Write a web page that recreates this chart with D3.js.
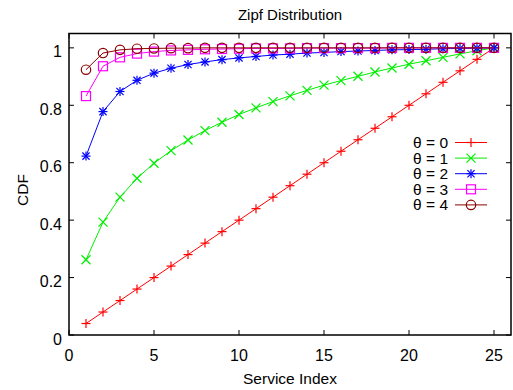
<!DOCTYPE html>
<html><head><meta charset="utf-8">
<script src="https://cdn.jsdelivr.net/npm/d3@7"></script>
<style>body{margin:0;background:#fff;}svg{font-family:"Liberation Sans",Arial,sans-serif;}</style>
</head><body>
<svg id="c" width="513" height="390"></svg>
<script>
const serviceIndex = d3.range(1, 26);
const theta0 = [0.04,0.08,0.12,0.16,0.20,0.24,0.28,0.32,0.36,0.40,0.44,0.48,0.52,0.56,0.60,0.64,0.68,0.72,0.76,0.80,0.84,0.88,0.92,0.96,1.00];
const theta1 = [0.262,0.393,0.480,0.546,0.598,0.642,0.679,0.712,0.741,0.768,0.791,0.813,0.833,0.852,0.870,0.886,0.901,0.916,0.930,0.943,0.955,0.967,0.979,0.990,1.000];
const theta2 = [0.623,0.778,0.848,0.887,0.912,0.929,0.942,0.951,0.959,0.965,0.970,0.975,0.978,0.982,0.984,0.987,0.989,0.991,0.993,0.994,0.995,0.997,0.998,0.999,1.000];
const theta3 = [0.832,0.936,0.967,0.980,0.987,0.991,0.993,0.995,0.996,0.997,0.998,0.998,0.998,0.999,0.999,0.999,0.999,0.999,1.000,1.000,1.000,1.000,1.000,1.000,1.000];
const theta4 = [0.924,0.982,0.993,0.997,0.998,0.999,0.999,1.000,1.000,1.000,1.000,1.000,1.000,1.000,1.000,1.000,1.000,1.000,1.000,1.000,1.000,1.000,1.000,1.000,1.000];
const seriesNames = ["θ = 0","θ = 1","θ = 2","θ = 3","θ = 4"];
const xTicks = [0,5,10,15,20,25];
const yTicks = [0,0.2,0.4,0.6,0.8,1];

const colors = ["#ff0000","#00ee00","#0000ff","#ff00ff","#8b0000"];
const shapes = ["plus","cross","star","square","circle"];
const series = [theta0,theta1,theta2,theta3,theta4].map((v,i)=>({name:seriesNames[i],color:colors[i],shape:shapes[i],values:v}));

const svg = d3.select("#c");
const L=69, R=511, T=33.5, B=335;
const x = d3.scaleLinear().domain([0,26]).range([L,R]);
const y = d3.scaleLinear().domain([0,1.05]).range([B,T]);

const g = svg.append("g");
const tl = 5;
xTicks.forEach(t=>{
  g.append("line").attr("x1",x(t)).attr("x2",x(t)).attr("y1",B).attr("y2",B-tl).attr("stroke","#000");
  g.append("line").attr("x1",x(t)).attr("x2",x(t)).attr("y1",T).attr("y2",T+tl).attr("stroke","#000");
  g.append("text").attr("x",x(t)).attr("y",B+26).attr("text-anchor","middle").attr("font-size",16).text(d3.format("d")(t));
});
yTicks.forEach(t=>{
  g.append("line").attr("x1",L).attr("x2",L+tl).attr("y1",y(t)).attr("y2",y(t)).attr("stroke","#000");
  g.append("line").attr("x1",R).attr("x2",R-tl).attr("y1",y(t)).attr("y2",y(t)).attr("stroke","#000");
  g.append("text").attr("x",L-7).attr("y",y(t)+9.5).attr("text-anchor","end").attr("font-size",16).text(t===0||t===1?String(t):d3.format(".1f")(t));
});

function marker(sel, shape, color, cx, cy){
  const s=4.5;
  const gg = sel.append("g").attr("transform",`translate(${cx},${cy})`).attr("stroke",color).attr("fill","none").attr("stroke-width",1.2);
  if(shape==="plus"||shape==="star"){
    gg.append("line").attr("x1",-s).attr("x2",s).attr("y1",0).attr("y2",0);
    gg.append("line").attr("x1",0).attr("x2",0).attr("y1",-s).attr("y2",s);
  }
  if(shape==="cross"||shape==="star"){
    const c = shape==="star"? s*0.8 : s*1.0;
    gg.append("line").attr("x1",-c).attr("x2",c).attr("y1",-c).attr("y2",c);
    gg.append("line").attr("x1",-c).attr("x2",c).attr("y1",c).attr("y2",-c);
  }
  if(shape==="square"){
    gg.append("rect").attr("x",-4.5).attr("y",-4.5).attr("width",9).attr("height",9);
  }
  if(shape==="circle"){
    gg.append("circle").attr("r",4.7);
  }
}

const line = d3.line().x((d,i)=>x(serviceIndex[i])).y(d=>y(d));
series.forEach(s=>{
  svg.append("path").attr("d",line(s.values)).attr("fill","none").attr("stroke",s.color).attr("stroke-width",1);
  s.values.forEach((v,i)=>marker(svg,s.shape,s.color,x(serviceIndex[i]),y(v)));
});

const ly0=142.5, ldy=15.6;
series.forEach((s,i)=>{
  const yy = ly0+i*ldy;
  svg.append("text").attr("x",448).attr("y",yy+5.5).attr("text-anchor","end").attr("font-size",15.5).text(s.name);
  svg.append("line").attr("x1",455).attr("x2",487).attr("y1",yy).attr("y2",yy).attr("stroke",s.color);
  marker(svg,s.shape,s.color,471,yy);
});

svg.append("rect").attr("x",L).attr("y",T).attr("width",R-L).attr("height",B-T).attr("fill","none").attr("stroke","#000").attr("stroke-width",1.5);

svg.append("text").attr("x",290).attr("y",20).attr("text-anchor","middle").attr("font-size",15).text("Zipf Distribution");
svg.append("text").attr("x",290).attr("y",384).attr("text-anchor","middle").attr("font-size",15.5).text("Service Index");
svg.append("text").attr("transform","translate(28,190) rotate(-90)").attr("text-anchor","middle").attr("font-size",15.5).text("CDF");
</script>
</body></html>
